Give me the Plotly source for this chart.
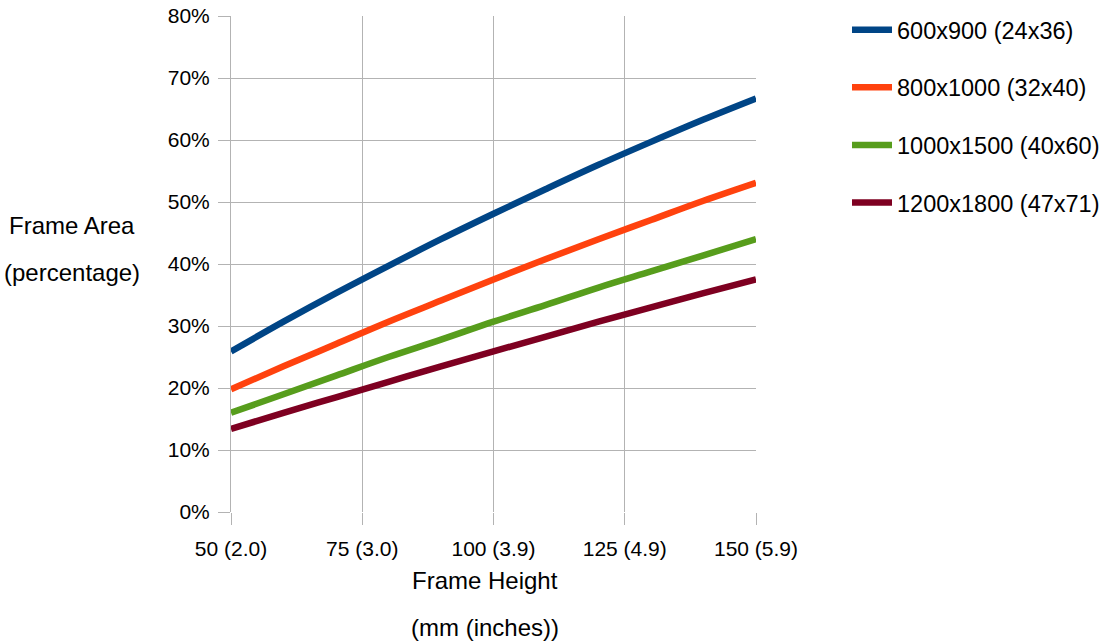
import plotly.graph_objects as go

frame_height = [50, 60, 70, 80, 90, 100, 110, 120, 130, 140, 150]
tick_vals = [50, 75, 100, 125, 150]
tick_text = ["50 (2.0)", "75 (3.0)", "100 (3.9)", "125 (4.9)", "150 (5.9)"]

series_names = ["600x900 (24x36)", "800x1000 (32x40)", "1000x1500 (40x60)", "1200x1800 (47x71)"]
s_600x900 = [25.9, 30.7, 35.3, 39.7, 44.0, 48.1, 52.1, 56.0, 59.7, 63.3, 66.7]
s_800x1000 = [19.8, 23.5, 27.1, 30.7, 34.1, 37.5, 40.8, 44.0, 47.1, 50.2, 53.1]
s_1000x1500 = [16.0, 19.0, 22.0, 25.0, 27.8, 30.7, 33.4, 36.2, 38.8, 41.4, 44.0]
s_1200x1800 = [13.4, 16.0, 18.5, 21.0, 23.5, 25.9, 28.3, 30.7, 33.0, 35.3, 37.5]
colors = ["#004586", "#ff420e", "#579d1c", "#7e0021"]

FONT = "Liberation Sans, Arial, sans-serif"

# page layout (body margin removed via post_script)
PL, PR, PT, PB = 231, 756, 16, 512  # plot area in page pixels
W, H = 1103, 642


def to_paper(px, py):
    return (px - PL) / (PR - PL), 1 - (py - PT) / (PB - PT)


fig = go.Figure()
for i, (name, vals) in enumerate(zip(series_names, [s_600x900, s_800x1000, s_1000x1500, s_1200x1800])):
    fig.add_trace(go.Scatter(
        x=frame_height, y=[v / 100 for v in vals], mode="lines", name=name,
        line=dict(color=colors[i], width=6.5, shape="spline"), legendgroup=f"g{i}",
    ))

lx, ly = to_paper(847, 8)
fig.update_layout(
    width=W, height=H,
    margin=dict(l=PL, r=W - PR, t=PT, b=H - PB, pad=0, autoexpand=False),
    paper_bgcolor="white", plot_bgcolor="white",
    font=dict(family=FONT, size=21, color="#000000"),
    showlegend=True,
    legend=dict(x=lx, y=ly, xanchor="left", yanchor="top", tracegroupgap=24,
                itemwidth=40, font=dict(size=23.5), bgcolor="rgba(0,0,0,0)", traceorder="grouped"),
    xaxis=dict(range=[50, 150], tickvals=tick_vals, ticktext=tick_text,
               showgrid=True, gridcolor="#b3b3b3", gridwidth=1,
               ticks="outside", ticklen=12, tickcolor="#b3b3b3",
               showline=False, zeroline=False, tickfont=dict(size=21),
               ticklabelstandoff=6, automargin=False, ticklabeloverflow="allow"),
    yaxis=dict(range=[0, 0.8], dtick=0.1, tickformat=".0%",
               showgrid=True, gridcolor="#b3b3b3", gridwidth=1,
               ticks="outside", ticklen=12, tickcolor="#b3b3b3",
               showline=True, linecolor="#b3b3b3", zeroline=False,
               tickfont=dict(size=21), ticklabelstandoff=4, automargin=False,
               ticklabeloverflow="allow"),
)

titles = [("Frame Area", 72, 226), ("(percentage)", 72, 272),
          ("Frame Height", 485, 580), ("(mm (inches))", 485, 627)]
for text, px, py in titles:
    ax, ay = to_paper(px, py)
    fig.add_annotation(text=text, x=ax, y=ay, xref="paper", yref="paper", showarrow=False,
                       xanchor="center", yanchor="middle", font=dict(size=24))

fig.write_html("out.html", config={"displayModeBar": False, "staticPlot": True},
               post_script="document.body.style.margin='0px';document.body.style.overflow='hidden';")
